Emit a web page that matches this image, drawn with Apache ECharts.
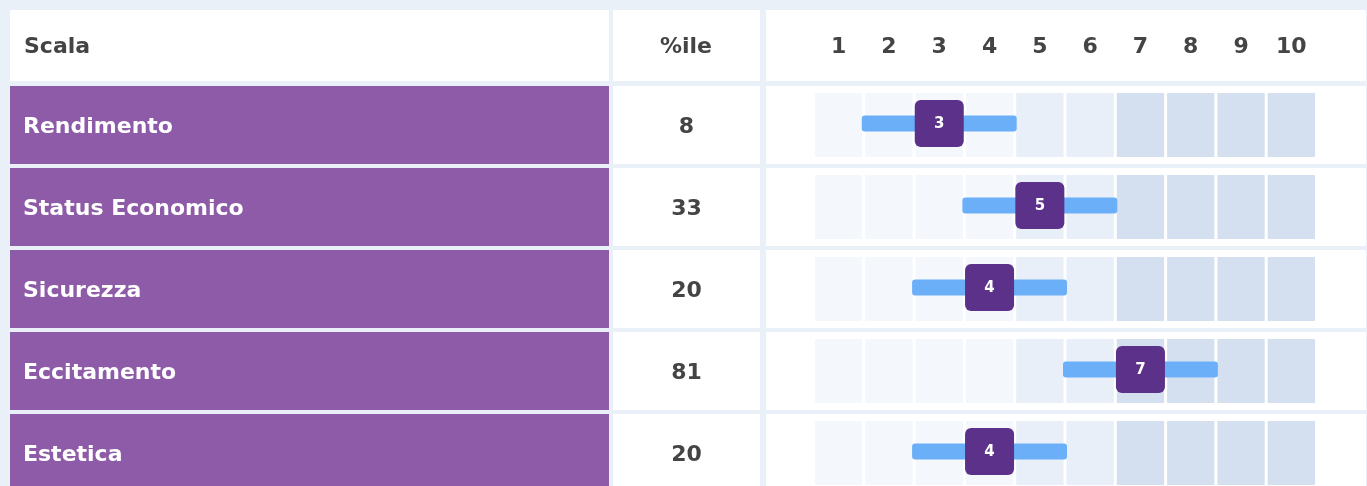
<!DOCTYPE html>
<html>
<head>
<meta charset="utf-8">
<title>Profilo scale</title>
<script src="https://cdn.jsdelivr.net/npm/echarts@6/dist/echarts.min.js"></script>
<style>
    html, body { margin: 0; padding: 0; background: #eaf0f8; overflow: hidden; }
    #main { width: 1367px; height: 500px; }
</style>
</head>
<body>
<div id="main"></div>
<script>
// dati della tabella
const scales = ['Rendimento', 'Status Economico', 'Sicurezza', 'Eccitamento', 'Estetica'];
const percentiles = [8, 33, 20, 81, 20];
const scores = [3, 5, 4, 7, 4];
const bandLow = [1.5, 3.5, 2.5, 5.5, 2.5];
const bandHigh = [4.5, 6.5, 5.5, 8.5, 5.5];
const stenLabels = ['1', '2', '3', '4', '5', '6', '7', '8', '9', '10'];

// colori delle colonne (stile)
const cellColors = ['#f4f7fc', '#f4f7fc', '#f4f7fc', '#f4f7fc', '#e8eff8', '#e8eff8', '#d4e0f0', '#d4e0f0', '#d4e0f0', '#d4e0f0'];
const FONT = 'DejaVu Sans';
const DARK = '#444444';

var chart = echarts.init(document.getElementById('main'));

var cells = [];
for (var r = 0; r < scales.length; r++) {
    for (var c = 0; c < stenLabels.length; c++) {
        cells.push([c + 1, r]);
    }
}
var marks = [];
for (var i = 0; i < scores.length; i++) {
    marks.push([scores[i], i, bandLow[i], bandHigh[i]]);
}
var full = scales.map(function () { return 1; });

function renderCell(params, api) {
    var c = api.value(0);
    var p = api.coord([c, api.value(1)]);
    var w = api.size([1, 0])[0] - 3;
    return {
        type: 'rect',
        shape: { x: p[0] - w / 2, y: p[1] - 32, width: w, height: 64 },
        style: { fill: cellColors[c - 1] }
    };
}

function renderMark(params, api) {
    var r = api.value(1);
    var p = api.coord([api.value(0), r]);
    var lo = api.coord([api.value(2), r]);
    var hi = api.coord([api.value(3), r]);
    var cy = p[1] - 1.5;
    return {
        type: 'group',
        children: [
            {
                type: 'rect',
                shape: { x: lo[0] - 2, y: cy - 8, width: hi[0] - lo[0] + 4, height: 16, r: 3 },
                style: { fill: '#6aaff7' }
            },
            {
                type: 'rect',
                shape: { x: p[0] - 24.5, y: cy - 23.5, width: 49, height: 47, r: 6 },
                style: { fill: '#5c3189' }
            },
            {
                type: 'text',
                x: p[0],
                y: cy + 0.5,
                style: {
                    text: String(api.value(0)),
                    fill: '#ffffff',
                    font: 'bold 15px ' + FONT,
                    align: 'center',
                    verticalAlign: 'middle'
                }
            }
        ]
    };
}

var gridTop = 84, gridH = 410;
var option = {
    backgroundColor: '#eaf0f8',
    animation: false,
    graphic: [
        { type: 'rect', shape: { x: 10, y: 10, width: 599, height: 71 }, style: { fill: '#ffffff' }, z: -1 },
        { type: 'rect', shape: { x: 613, y: 10, width: 147, height: 71 }, style: { fill: '#ffffff' }, z: -1 },
        { type: 'rect', shape: { x: 766, y: 10, width: 600, height: 71 }, style: { fill: '#ffffff' }, z: -1 },
        { type: 'text', x: 24, y: 47, style: { text: 'Scala', fill: DARK, font: 'bold 22px ' + FONT, align: 'left', verticalAlign: 'middle' } },
        { type: 'text', x: 686, y: 47, style: { text: '%ile', fill: DARK, font: 'bold 22px ' + FONT, align: 'center', verticalAlign: 'middle' } }
    ],
    grid: [
        { left: 10, width: 599, top: gridTop, height: gridH },
        { left: 613, width: 147, top: gridTop, height: gridH },
        { left: 766, width: 600, top: gridTop, height: gridH },
        { left: 813.5, width: 503, top: gridTop, height: gridH }
    ],
    xAxis: [
        { gridIndex: 0, type: 'value', min: 0, max: 1, show: false },
        { gridIndex: 1, type: 'value', min: 0, max: 1, show: false },
        { gridIndex: 2, type: 'value', min: 0, max: 1, show: false },
        { gridIndex: 3, type: 'value', min: 0.5, max: 10.5, show: false },
        {
            gridIndex: 3, type: 'category', data: stenLabels, position: 'top',
            axisLine: { show: false }, axisTick: { show: false }, splitLine: { show: false },
            axisLabel: { color: DARK, fontFamily: FONT, fontWeight: 'bold', fontSize: 22, margin: 26, interval: 0 }
        }
    ],
    yAxis: [0, 1, 2, 3].map(function (g) {
        return { gridIndex: g, type: 'category', data: scales, inverse: true, show: false };
    }),
    series: [
        {
            type: 'bar', xAxisIndex: 0, yAxisIndex: 0, data: full, barWidth: 78, silent: true,
            itemStyle: { color: '#8d5ba7' },
            label: {
                show: true, position: 'insideLeft', distance: 13, offset: [0, 2],
                formatter: function (p) { return scales[p.dataIndex]; },
                color: '#ffffff', fontFamily: FONT, fontWeight: 'bold', fontSize: 22
            }
        },
        {
            type: 'bar', xAxisIndex: 1, yAxisIndex: 1, data: full, barWidth: 78, silent: true,
            itemStyle: { color: '#ffffff' },
            label: {
                show: true, position: 'inside', offset: [0, 2],
                formatter: function (p) { return String(percentiles[p.dataIndex]); },
                color: DARK, fontFamily: FONT, fontWeight: 'bold', fontSize: 22
            }
        },
        {
            type: 'bar', xAxisIndex: 2, yAxisIndex: 2, data: full, barWidth: 78, silent: true,
            itemStyle: { color: '#ffffff' }
        },
        {
            type: 'custom', xAxisIndex: 3, yAxisIndex: 3, data: cells, silent: true,
            renderItem: renderCell, encode: { x: 0, y: 1 }, z: 3
        },
        {
            type: 'custom', xAxisIndex: 3, yAxisIndex: 3, data: marks, silent: true,
            renderItem: renderMark, encode: { x: 0, y: 1 }, z: 4
        }
    ]
};
chart.setOption(option);
</script>
</body>
</html>
